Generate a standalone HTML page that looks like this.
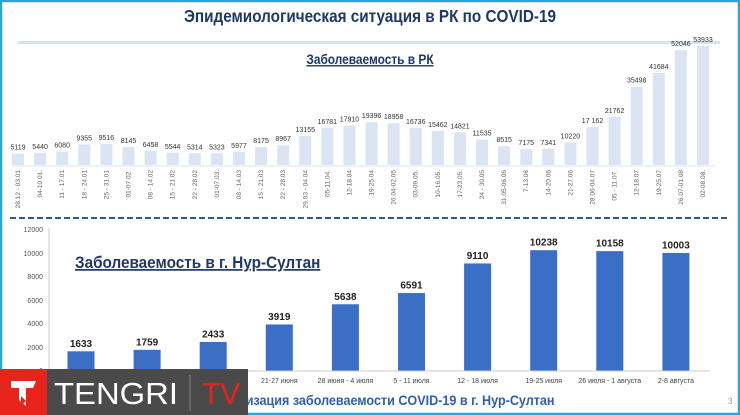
<!DOCTYPE html>
<html><head><meta charset="utf-8"><style>
html,body{margin:0;padding:0;background:#fff}
svg{display:block;font-family:"Liberation Sans",sans-serif}
</style></head><body>
<svg width="740" height="415" viewBox="0 0 740 415" xmlns="http://www.w3.org/2000/svg">
<rect x="0" y="0" width="740" height="415" fill="#fff"/>
<rect x="1" y="1" width="738" height="413" fill="none" stroke="#2aa6d6" stroke-width="2.5"/>
<text x="370" y="22" text-anchor="middle" font-size="18" font-weight="bold" fill="#1f3864" transform="translate(370 0) scale(0.85 1) translate(-370 0)">Эпидемиологическая ситуация в РК по COVID-19</text>
<rect x="18" y="41" width="702" height="3" fill="#d5e2f2"/>
<text x="370" y="64" text-anchor="middle" font-size="14" font-weight="bold" fill="#1f3864" text-decoration="underline" transform="translate(370 0) scale(0.85 1) translate(-370 0)">Заболеваемость в РК</text>
<line x1="12" y1="166" x2="715" y2="166" stroke="#dde6f0" stroke-width="1"/>
<g id="top"></g>
<line x1="10" y1="218" x2="728" y2="218" stroke="#2b5b8c" stroke-width="2" stroke-dasharray="6 3"/>
<g font-size="7" fill="#555" text-anchor="end">
<text x="43" y="232">12000</text><text x="43" y="256">10000</text><text x="43" y="279">8000</text><text x="43" y="303">6000</text><text x="43" y="326">4000</text><text x="43" y="350">2000</text><text x="43" y="373">0</text>
</g>
<line x1="49" y1="228" x2="49" y2="371" stroke="#ccc"/>
<line x1="49" y1="371" x2="710" y2="371" stroke="#ccc"/>
<text x="75" y="268" font-size="17" font-weight="bold" fill="#1f3864" text-decoration="underline" transform="translate(75 0) scale(0.9 1) translate(-75 0)">Заболеваемость в г. Нур-Султан</text>
<g id="bot"></g>
<text x="200" y="405" font-size="14" font-weight="bold" fill="#2e5fae" transform="translate(200 0) scale(0.9 1) translate(-200 0)">Стабилизация заболеваемости  COVID-19 в г. Нур-Султан</text>
<text x="728" y="404" font-size="8" fill="#999">3</text>
<rect x="0" y="369" width="248" height="46" fill="#4a4a4a"/>
<rect x="0" y="369" width="47" height="46" fill="#e8231b"/>
<polygon points="11,381 36,381 33,388 26,388 26,406 19,400 19,388 11,388" fill="#fff"/>
<polygon points="21,396 26,401 21,406" fill="#e8231b"/>
<text x="54" y="404" font-size="31" fill="#fff" textLength="124" lengthAdjust="spacingAndGlyphs">TENGRI</text>
<line x1="190" y1="375" x2="190" y2="411" stroke="#888" stroke-width="1"/>
<text x="202" y="404" font-size="31" fill="#e8231b" textLength="38" lengthAdjust="spacingAndGlyphs">TV</text>
</svg>
<script>
var ns="http://www.w3.org/2000/svg";
function el(p,t,a,txt){var e=document.createElementNS(ns,t);for(var k in a)e.setAttribute(k,a[k]);if(txt!==undefined)e.textContent=txt;p.appendChild(e);return e;}
var tv=[5119,5440,6080,9355,9516,8145,6458,5544,5314,5323,5977,8175,8967,13155,16781,17910,19396,18958,16736,15462,14821,11535,8515,7175,7341,10220,17162,21762,35498,41684,52046,53933];
var tl=["28.12 - 03.01","04-10.01.","11 - 17.01","18 - 24.01","25 - 31.01","01-07.02.","08 - 14.02","15 - 21.02","22 - 28.02","01-07.03.","08 - 14.03","15 - 21.03","22 - 28.03","29.03 - 04.04","05-11.04.","12-18.04","19-25.04","26.04-02.05","03-09.05.","10-16.05.","17-23.05.","24 - 30.05","31.05-06.06","7-13.06","14-20.06","21-27.06","28.06-04.07","05 - 11.07.","12-18.07","19-25.07","26.07-01.08","02-08.08."];
var g=document.getElementById("top");
var n=tv.length,x0=18,x1=703,st=(x1-x0)/(n-1);
for(var i=0;i<n;i++){var cx=x0+i*st,h=tv[i]*119/53933;
el(g,"rect",{x:cx-6,y:165-h,width:12,height:h,fill:"#dae4f3"});
var s=String(tv[i]);if(tv[i]==17162)s="17 162";
el(g,"text",{x:cx,y:161-h,"font-size":"7","text-anchor":"middle",fill:"#333"},s);
el(g,"text",{x:0,y:0,"font-size":"6.5","text-anchor":"end",fill:"#666",transform:"translate("+(cx+2)+" 170) rotate(-90)"},tl[i]);}
var bv=[1633,1759,2433,3919,5638,6591,9110,10238,10158,10003];
var bl=["31 мая - 6 июня","7-13 июня","14-20 июня","21-27 июня","28 июня - 4 июля","5 - 11 июля","12 - 18 июля","19-25 июля","26 июля - 1 августа","2-8 августа"];
var b=document.getElementById("bot");
for(var j=0;j<10;j++){var cx=81+j*66.1,h=bv[j]*0.01175;
el(b,"rect",{x:cx-13.5,y:370.5-h,width:27,height:h,fill:"#3b6fc6"});
el(b,"text",{x:cx,y:366-h,"font-size":"10","font-weight":"bold","text-anchor":"middle",fill:"#222"},bv[j]);
el(b,"text",{x:cx,y:383,"font-size":"7","text-anchor":"middle",fill:"#444"},bl[j]);}
</script>
</body></html>
